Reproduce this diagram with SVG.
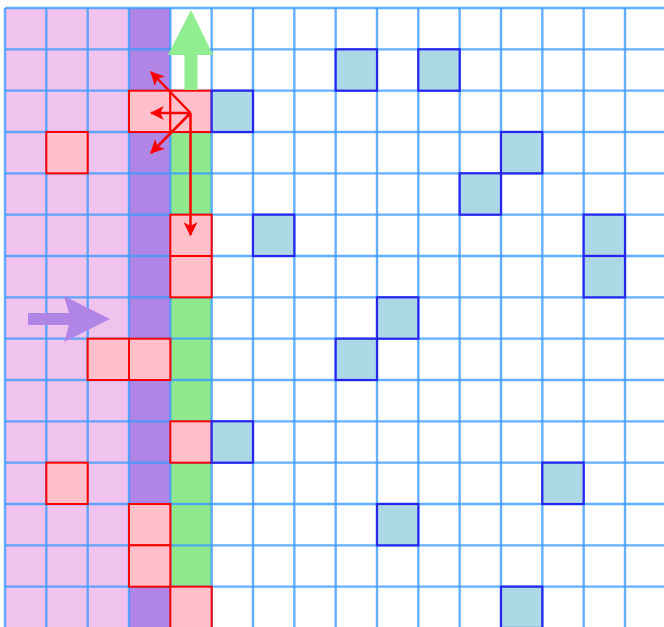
<svg xmlns="http://www.w3.org/2000/svg" width="664" height="627" viewBox="0 0 664 627">
<style>
.grid line{stroke:#3d9bff;stroke-width:2.4;opacity:0.8}
.red{fill:#ffc0cb;stroke:#ff0000;stroke-width:2}
.blue{fill:#add8e6;stroke:#2626ee;stroke-width:2.2}
.rarrow{stroke:#ff0000;stroke-width:2.5;fill:none;marker-end:url(#rh)}
</style>
<defs>
<marker id="rh" viewBox="0 0 12 12" refX="11" refY="6" markerWidth="14" markerHeight="14" markerUnits="userSpaceOnUse" orient="auto">
<path d="M0,0 L12,6 L0,12 L3,6 z" fill="#ff0000"/>
</marker>
</defs>
<rect width="664" height="627" fill="#ffffff"/>
<g id="regions">
<rect x="5" y="8" width="124" height="619" fill="#f0c3ee"/>
<rect x="129" y="8" width="41.33" height="619" fill="#b085e5"/>
<rect x="170.33" y="132" width="41.34" height="495" fill="#90e88c"/>
</g>
<g class="grid" id="grid">
<line x1="5" y1="8" x2="5" y2="627"/>
<line x1="46.33" y1="8" x2="46.33" y2="627"/>
<line x1="87.67" y1="8" x2="87.67" y2="627"/>
<line x1="129" y1="8" x2="129" y2="627"/>
<line x1="170.33" y1="8" x2="170.33" y2="627"/>
<line x1="211.67" y1="8" x2="211.67" y2="627"/>
<line x1="253" y1="8" x2="253" y2="627"/>
<line x1="294.33" y1="8" x2="294.33" y2="627"/>
<line x1="335.67" y1="8" x2="335.67" y2="627"/>
<line x1="377" y1="8" x2="377" y2="627"/>
<line x1="418.33" y1="8" x2="418.33" y2="627"/>
<line x1="459.67" y1="8" x2="459.67" y2="627"/>
<line x1="501" y1="8" x2="501" y2="627"/>
<line x1="542.33" y1="8" x2="542.33" y2="627"/>
<line x1="583.67" y1="8" x2="583.67" y2="627"/>
<line x1="625" y1="8" x2="625" y2="627"/>
<line x1="5" y1="8" x2="664" y2="8"/>
<line x1="5" y1="49.33" x2="664" y2="49.33"/>
<line x1="5" y1="90.67" x2="664" y2="90.67"/>
<line x1="5" y1="132" x2="664" y2="132"/>
<line x1="5" y1="173.33" x2="664" y2="173.33"/>
<line x1="5" y1="214.67" x2="664" y2="214.67"/>
<line x1="5" y1="256" x2="664" y2="256"/>
<line x1="5" y1="297.33" x2="664" y2="297.33"/>
<line x1="5" y1="338.67" x2="664" y2="338.67"/>
<line x1="5" y1="380" x2="664" y2="380"/>
<line x1="5" y1="421.33" x2="664" y2="421.33"/>
<line x1="5" y1="462.67" x2="664" y2="462.67"/>
<line x1="5" y1="504" x2="664" y2="504"/>
<line x1="5" y1="545.33" x2="664" y2="545.33"/>
<line x1="5" y1="586.67" x2="664" y2="586.67"/>
</g>
<g id="red-cells">
<rect id="r-2-3" class="red" x="129" y="90.67" width="41.33" height="41.33"/>
<rect id="r-2-4" class="red" x="170.33" y="90.67" width="41.34" height="41.33"/>
<rect id="r-3-1" class="red" x="46.33" y="132" width="41.34" height="41.33"/>
<rect id="r-5-4" class="red" x="170.33" y="214.67" width="41.34" height="41.33"/>
<rect id="r-6-4" class="red" x="170.33" y="256" width="41.34" height="41.33"/>
<rect id="r-8-2" class="red" x="87.67" y="338.67" width="41.33" height="41.33"/>
<rect id="r-8-3" class="red" x="129" y="338.67" width="41.33" height="41.33"/>
<rect id="r-10-4" class="red" x="170.33" y="421.33" width="41.34" height="41.34"/>
<rect id="r-11-1" class="red" x="46.33" y="462.67" width="41.34" height="41.33"/>
<rect id="r-12-3" class="red" x="129" y="504" width="41.33" height="41.33"/>
<rect id="r-13-3" class="red" x="129" y="545.33" width="41.33" height="41.34"/>
<rect id="r-14-4" class="red" x="170.33" y="586.67" width="41.34" height="41.33"/>
</g>
<g id="blue-cells">
<rect id="b-1-8" class="blue" x="335.67" y="49.33" width="41.33" height="41.34"/>
<rect id="b-1-10" class="blue" x="418.33" y="49.33" width="41.34" height="41.34"/>
<rect id="b-2-5" class="blue" x="211.67" y="90.67" width="41.33" height="41.33"/>
<rect id="b-3-12" class="blue" x="501" y="132" width="41.33" height="41.33"/>
<rect id="b-4-11" class="blue" x="459.67" y="173.33" width="41.33" height="41.34"/>
<rect id="b-5-6" class="blue" x="253" y="214.67" width="41.33" height="41.33"/>
<rect id="b-5-14" class="blue" x="583.67" y="214.67" width="41.33" height="41.33"/>
<rect id="b-6-14" class="blue" x="583.67" y="256" width="41.33" height="41.33"/>
<rect id="b-7-9" class="blue" x="377" y="297.33" width="41.33" height="41.34"/>
<rect id="b-8-8" class="blue" x="335.67" y="338.67" width="41.33" height="41.33"/>
<rect id="b-10-5" class="blue" x="211.67" y="421.33" width="41.33" height="41.34"/>
<rect id="b-11-13" class="blue" x="542.33" y="462.67" width="41.34" height="41.33"/>
<rect id="b-12-9" class="blue" x="377" y="504" width="41.33" height="41.33"/>
<rect id="b-14-12" class="blue" x="501" y="586.67" width="41.33" height="41.33"/>
</g>
<g id="connectors">
<polygon id="green-arrow" points="191,10 168,55 184.5,55 184.5,90 197.5,90 197.5,55 213,55" fill="#90ee90"/>
<polygon id="purple-arrow" points="28,313 69,313 64,296 110,319 64,342 69,325 28,325" fill="#b085e5"/>
<line class="rarrow" x1="190.5" y1="113" x2="151" y2="72"/>
<line class="rarrow" x1="190.5" y1="113" x2="151" y2="113"/>
<line class="rarrow" x1="190.5" y1="113" x2="151" y2="153"/>
<line class="rarrow" x1="190.5" y1="113" x2="190.5" y2="235"/>
</g>
</svg>
